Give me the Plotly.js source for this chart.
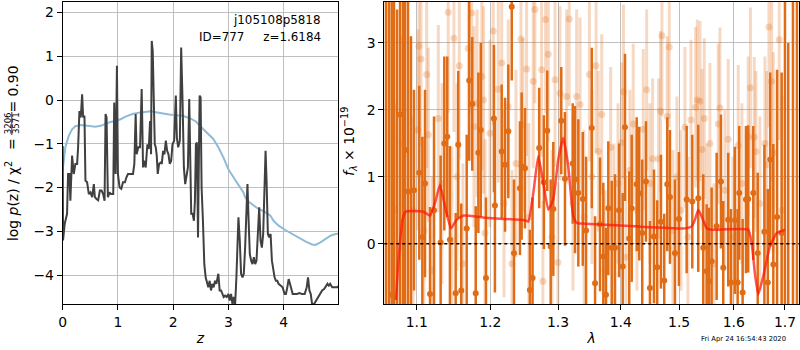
<!DOCTYPE html>
<html>
<head>
<meta charset="utf-8">
<script src="https://cdn.plot.ly/plotly-3.0.1.min.js"></script>
<style>html,body{margin:0;padding:0;background:#fff;}#plot{width:800px;height:350px;}</style>
</head>
<body>
<div id="plot"></div>
<script>
// ---------- left panel: redshift probability ----------
const zPz = [0.000,0.006,0.036,0.079,0.097,0.121,0.139,0.170,0.200,0.230,
0.261,0.279,0.303,0.327,0.352,0.370,0.394,0.412,0.442,0.473,
0.503,0.533,0.564,0.582,0.612,0.642,0.673,0.703,0.733,0.758,
0.776,0.794,0.818,0.848,0.873,0.897,0.915,0.933,0.958,0.982,
1.000,1.030,1.061,1.091,1.127,1.152,1.182,1.212,1.236,1.273,
1.297,1.321,1.339,1.370,1.400,1.430,1.455,1.473,1.503,1.533,
1.558,1.582,1.600,1.612,1.630,1.648,1.667,1.685,1.703,1.721,
1.745,1.770,1.794,1.818,1.842,1.867,1.891,1.915,1.939,1.964,
1.988,2.018,2.048,2.067,2.091,2.121,2.145,2.170,2.194,2.218,
2.242,2.267,2.291,2.309,2.327,2.352,2.376,2.394,2.412,2.430,
2.450,2.460,2.479,2.497,2.515,2.539,2.564,2.588,2.612,2.636,
2.661,2.685,2.709,2.733,2.758,2.782,2.818,2.842,2.867,2.891,
2.915,2.939,2.970,3.000,3.024,3.048,3.073,3.097,3.121,3.145,
3.170,3.182,3.206,3.230,3.255,3.279,3.303,3.327,3.345,3.364,
3.388,3.412,3.436,3.461,3.485,3.509,3.533,3.558,3.582,3.606,
3.630,3.655,3.673,3.691,3.715,3.739,3.764,3.788,3.812,3.836,
3.861,3.885,3.909,3.945,3.982,4.018,4.042,4.067,4.091,4.115,
4.139,4.164,4.200,4.242,4.285,4.333,4.382,4.418,4.442,4.467,
4.491,4.515,4.552,4.588,4.624,4.661,4.697,4.733,4.770,4.794,
4.818,4.842,4.879,4.927,4.976,5.000];
const logPz = [-1.05,-3.21,-2.83,-2.60,-1.69,-1.69,-2.30,-1.27,-1.69,-1.46,
-1.46,-1.08,-0.25,-0.40,0.13,-0.40,-0.36,-1.84,-1.88,-2.15,
-2.11,-2.22,-1.92,-2.22,-2.26,-2.29,-2.07,-2.07,-2.15,-2.30,
-0.32,-0.40,-2.22,-2.11,-2.15,-2.15,-2.15,-0.06,-1.69,0.78,
-1.69,-2.00,-2.03,-1.88,-1.88,-1.77,-1.69,-1.69,-1.69,-1.69,
-1.46,-0.32,-1.24,-1.08,-1.08,0.25,-1.54,-1.39,-1.54,-1.01,
-1.12,-0.48,-1.24,1.35,1.12,-0.02,-1.01,-1.08,-1.27,-1.69,
-1.46,-1.43,-1.46,-1.16,-1.24,-0.93,-1.16,-1.24,-1.46,-1.39,
-1.01,-0.93,0.10,-0.86,-1.08,-0.93,1.20,-0.02,-1.54,-1.92,
-1.69,-1.54,0.02,-1.39,-2.60,-2.60,-2.76,-2.30,-1.01,-0.97,
-3.14,-2.00,0.10,0.06,-2.00,-2.76,-3.75,-4.05,-4.20,-4.28,
-4.13,-4.35,-4.20,-4.28,-4.13,-4.20,-3.97,-4.35,-4.35,-4.43,
-4.50,-4.47,-4.50,-4.43,-4.58,-4.43,-4.66,-4.50,-4.70,-4.05,
-3.21,-2.68,-3.21,-3.97,-4.05,-3.97,-3.37,-2.60,-1.92,-2.68,
-3.52,-3.67,-3.75,-3.59,-3.75,-3.67,-3.06,-2.45,-3.21,-3.37,
-3.06,-2.00,-1.16,-1.84,-3.06,-3.14,-3.06,-3.67,-3.90,-4.05,
-4.13,-4.13,-4.20,-4.24,-4.28,-4.43,-4.43,-4.28,-4.09,-4.20,
-4.35,-4.43,-4.43,-4.43,-4.41,-4.43,-4.43,-4.28,-4.05,-4.35,
-4.43,-4.66,-4.66,-4.58,-4.50,-4.43,-4.35,-4.32,-4.24,-4.20,
-4.24,-4.20,-4.28,-4.28,-4.28,-4.24];
const zPrior = [0.000,0.048,0.109,0.170,0.230,0.321,0.412,0.503,0.594,0.685,
0.776,0.867,0.958,1.048,1.139,1.261,1.382,1.503,1.594,1.685,
1.806,1.927,2.048,2.170,2.291,2.412,2.515,2.636,2.727,2.818,
2.909,3.000,3.091,3.182,3.273,3.303,3.364,3.455,3.545,3.636,
3.758,3.818,3.909,4.030,4.152,4.273,4.394,4.515,4.576,4.667,
4.758,4.848,4.939,5.000];
const logPrior = [-1.60,-1.08,-0.82,-0.67,-0.60,-0.57,-0.58,-0.59,-0.61,-0.59,
-0.54,-0.50,-0.48,-0.44,-0.38,-0.32,-0.29,-0.27,-0.26,-0.28,
-0.31,-0.33,-0.35,-0.36,-0.41,-0.49,-0.63,-0.78,-0.89,-1.08,
-1.31,-1.58,-1.77,-1.94,-2.11,-2.22,-2.32,-2.41,-2.49,-2.54,
-2.64,-2.76,-2.87,-2.97,-3.06,-3.14,-3.23,-3.30,-3.31,-3.25,
-3.17,-3.10,-3.06,-3.05];
const zTicks = [0,1,2,3,4];
const pzTicks = [-4,-3,-2,-1,0,1,2];

// ---------- right panel: 1D spectrum ----------
const lamDark = [1.0607,1.0645,1.0680,1.0709,1.0748,1.0786,1.0824,1.0850,1.0888,1.0926,
1.0965,1.1034,1.1074,1.1109,1.1175,1.1228,1.1316,1.1365,1.1405,1.1441,
1.1519,1.1554,1.1595,1.1670,1.1705,1.1747,1.1795,1.1832,1.1866,1.1939,
1.2052,1.2066,1.2163,1.2211,1.2258,1.2308,1.2341,1.2428,1.2453,1.2502,
1.2575,1.2615,1.2714,1.2785,1.2836,1.2888,1.2928,1.3050,1.3107,1.3228,
1.3264,1.3316,1.3386,1.3438,1.3529,1.3582,1.3662,1.3715,1.3759,1.3796,
1.3852,1.3906,1.3972,1.4033,1.4071,1.4142,1.4183,1.4267,1.4310,1.4361,
1.4424,1.4492,1.4561,1.4617,1.4682,1.4739,1.4792,1.4839,1.4927,1.4997,
1.5135,1.5236,1.5344,1.5435,1.5497,1.5539,1.5588,1.5681,1.5761,1.5804,
1.5897,1.5948,1.6024,1.6075,1.6105,1.6170,1.6234,1.6277,1.6375,1.6461,
1.6591,1.6658,1.6706,1.6767,1.6842,1.6933,1.7000,1.7066,1.7161,1.7242];
const fluxDark = [4.5,-1.8,-0.76,4.2,-1.5,1.93,4.8,1.40,0.78,-1.4,
0.8,1.06,0.10,0.9,-0.75,0.5,0.02,1.50,1.60,0.06,
-0.74,1.48,-0.70,0.23,2.44,2.09,-0.74,1.36,1.70,-0.51,
1.87,0.57,1.38,1.18,1.68,3.54,-0.14,0.83,1.16,1.13,
-0.69,-0.51,1.43,0.92,1.69,-0.04,0.52,1.84,0.97,1.20,
0.96,0.76,0.67,0.2,1.73,-0.59,0.29,-0.19,-0.76,0.53,
-0.06,-0.06,0.5,-0.34,1.74,0.08,0.53,0.89,0.75,0.16,
0.93,-0.66,0.11,-0.35,0.33,-0.55,0.89,0.70,-0.14,0.37,
0.66,0.63,0.68,-0.06,-0.41,-0.56,-0.26,0.26,0.93,-0.36,
0.36,-0.58,0.35,-0.58,0.76,-0.73,0.66,0.67,0.76,-0.14,
0.18,-0.58,1.26,-0.31,0.4,0.16,4.5,-2,4,4];
const errDark = [6,6,5,6,5,5,6,5,4.5,4.5,
1.5,1.3,1.5,1.4,1.3,1.4,1.3,1.3,1.2,1.4,
1.2,1.1,1.3,1.4,1.2,1.0,1.3,1.2,1.3,1.2,
1.1,1.3,1.0,1.0,1.0,1.1,1.1,1.0,1.1,0.9,
0.9,1.2,0.9,1.0,0.9,1.0,1.0,0.8,1.0,0.9,
1.1,1.1,1.0,1.1,1.2,1.0,1.0,1.1,1.0,1.0,
1.0,1.1,1.0,1.1,1.1,1.0,1.1,1.0,1.0,1.1,
0.9,1.0,1.0,1.0,1.0,1.0,1.0,1.0,1.1,1.0,
1.1,1.0,1.1,1.1,1.0,1.1,1.1,1.1,1.0,1.0,
1.0,1.1,1.1,1.1,1.0,1.1,1.1,1.1,1.0,1.2,
1.3,1.4,1.3,1.8,2.2,2.4,6,5,6,6];

const lamLight = [1.0722,1.0812,1.0952,1.1017,1.1030,1.1056,1.1095,1.1131,1.1152,1.1201,
1.1285,1.1334,1.1418,1.1468,1.1495,1.1536,1.1568,1.1618,1.1692,1.1739,
1.1771,1.1814,1.1880,1.1905,1.1926,1.1995,1.2042,1.2114,1.2163,1.2196,
1.2258,1.2312,1.2370,1.2443,1.2472,1.2526,1.2560,1.2625,1.2650,1.2750,
1.2810,1.2851,1.2908,1.2954,1.3030,1.3133,1.3174,1.3232,1.3290,1.3343,
1.3406,1.3491,1.3534,1.3598,1.3635,1.3689,1.3743,1.3835,1.3889,1.3955,
1.4016,1.4046,1.4087,1.4154,1.4209,1.4271,1.4378,1.4436,1.4492,1.4538,
1.4641,1.4676,1.4699,1.4792,1.4827,1.4892,1.4962,1.5033,1.5104,1.5158,
1.5212,1.5297,1.5326,1.5375,1.5411,1.5453,1.5502,1.5557,1.5631,1.5711,
1.5742,1.5835,1.5897,1.5985,1.6086,1.6157,1.6277,1.6320,1.6393,1.6426,
1.6504,1.6602,1.6635,1.6681,1.6734,1.6767,1.6885,1.6940,1.2770,1.2999];
const fluxLight = [0.5,1.5,0.5,1.7,2.95,2.76,0.2,2.53,1.63,-0.4,
1.87,0.9,3.46,0.05,3.07,1.0,2.66,-0.3,2.92,3.45,
1.75,2.10,2.50,2.15,0.16,1.65,3.18,2.31,2.70,0.6,
2.05,-0.3,1.2,3.06,1.78,2.61,0.4,2.43,3.50,2.60,
3.35,2.83,0.1,2.45,2.25,2.20,3.36,0.6,2.2,2.08,
0.4,2.53,1.0,2.66,1.38,1.93,-0.4,1.44,0.3,0.9,
1.51,2.27,-0.2,1.1,1.79,0.5,1.71,2.30,0.9,1.27,
1.27,1.98,3.11,1.90,2.94,0.2,1.0,0.5,1.74,0.1,
1.85,2.04,2.15,2.13,1.41,1.87,0.3,1.50,-0.3,1.79,
2.03,0.8,1.56,0.1,1.47,0.9,1.60,2.33,1.59,1.38,
0.6,1.50,1.18,3.24,2.43,1.36,3.05,0.5,-0.56,-0.28];
const errLight = [1.6,1.6,1.4,1.5,1.3,1.3,1.4,1.4,1.3,1.4,
1.4,1.5,1.5,1.4,1.4,1.4,1.4,1.5,1.5,1.5,
1.5,1.4,1.4,1.4,1.4,1.4,1.4,1.4,1.4,1.4,
1.3,1.4,1.4,1.3,1.3,1.3,1.4,1.3,1.4,1.3,
1.4,1.3,1.3,1.3,1.3,1.3,1.3,1.3,1.3,1.3,
1.3,1.3,1.3,1.3,1.2,1.2,1.2,1.2,1.2,1.2,
1.2,1.3,1.2,1.2,1.2,1.2,1.2,1.2,1.2,1.2,
1.2,1.2,1.2,1.2,1.2,1.2,1.2,1.2,1.2,1.2,
1.2,1.2,1.2,1.2,1.2,1.2,1.2,1.2,1.2,1.2,
1.2,1.2,1.2,1.2,1.2,1.2,1.2,1.2,1.2,1.2,
1.3,1.3,1.4,1.5,1.5,1.5,1.5,1.7,1.2,1.2];

const lamModel = [1.0734,1.0760,1.0788,1.0818,1.0857,1.0936,1.1086,1.1175,1.1241,1.1307,
1.1374,1.1455,1.1533,1.1622,1.1925,1.2500,1.2551,1.2626,1.2700,1.2776,
1.2851,1.2927,1.3004,1.3081,1.3158,1.3236,1.3290,1.3421,1.4237,1.5104,
1.5224,1.5284,1.5344,1.5405,1.5497,1.5589,1.6277,1.6343,1.6406,1.6470,
1.6568,1.6700,1.6833,1.7000];
const fluxModel = [-0.84,-0.34,0.06,0.36,0.48,0.49,0.48,0.42,0.61,0.88,
0.56,0.23,0.36,0.42,0.39,0.35,0.33,0.76,1.31,0.91,
0.51,0.66,1.26,1.58,1.16,0.41,0.31,0.30,0.26,0.23,
0.26,0.36,0.51,0.41,0.23,0.21,0.21,0.01,-0.44,-0.76,
-0.49,-0.04,0.16,0.21];
const lamTicks = [1.1,1.2,1.3,1.4,1.5,1.6,1.7];
const lamTickText = ['1.1','1.2','1.3','1.4','1.5','1.6','1.7'];
const fluxTicks = [0,1,2,3];

// ---------- drawing ----------
const W = 800, H = 350;
const px = v => v / W, py = v => 1 - v / H;
const FONT = 'DejaVu Sans';
const orange = 'rgb(224,108,22)';
const orangeLight = 'rgba(224,108,22,0.26)';

const traces = [
  {x: zPrior, y: logPrior, xaxis: 'x', yaxis: 'y', mode: 'lines',
   line: {color: '#8fbbd9', width: 2}, hoverinfo: 'skip'},
  {x: zPz, y: logPz, xaxis: 'x', yaxis: 'y', mode: 'lines',
   line: {color: '#404040', width: 2}, hoverinfo: 'skip'},
  {x: lamLight, y: fluxLight, xaxis: 'x2', yaxis: 'y2', mode: 'markers',
   marker: {color: orangeLight, size: 7},
   error_y: {type: 'data', array: errLight, visible: true, color: orangeLight, thickness: 3, width: 0}},
  {x: lamDark, y: fluxDark, xaxis: 'x2', yaxis: 'y2', mode: 'markers',
   marker: {color: orange, size: 6},
   error_y: {type: 'data', array: errDark, visible: true, color: orange, thickness: 2.5, width: 0}},
  {x: lamModel, y: fluxModel, xaxis: 'x2', yaxis: 'y2', mode: 'lines',
   line: {color: 'rgba(255,20,10,0.72)', width: 2.5, shape: 'spline', smoothing: 0.4}}
];

const axBase = {
  showline: true, mirror: true, linecolor: 'black', linewidth: 1,
  ticks: 'outside', ticklen: 5, tickwidth: 1, tickcolor: 'black',
  showgrid: true, gridcolor: '#b0b0b0', gridwidth: 0.8, zeroline: false,
  tickfont: {family: FONT, size: 13.9, color: 'black'}
};
const yDom = [1 - 304 / H, 1 - 1.5 / H];
const lab = (x, y, text, size, ya) => ({xref: 'paper', yref: 'paper', x: px(x), y: py(y),
  xanchor: 'center', yanchor: ya || 'middle', textangle: -90, text: text, showarrow: false,
  font: {family: FONT, size: size, color: 'black'}});

const layout = {
  width: W, height: H, showlegend: false,
  margin: {l: 0, r: 0, t: 0, b: 0},
  paper_bgcolor: 'white', plot_bgcolor: 'white',
  font: {family: FONT, size: 13.9, color: 'black'},
  xaxis: Object.assign({}, axBase, {
    domain: [px(62.7), px(338.3)], range: [0, 4.99], anchor: 'y',
    tickvals: zTicks,
    title: {text: '<i>z</i>', font: {family: FONT, size: 13.9}, standoff: 4}
  }),
  yaxis: Object.assign({}, axBase, {
    domain: yDom, range: [-4.66, 2.25], anchor: 'x',
    tickvals: pzTicks
  }),
  xaxis2: Object.assign({}, axBase, {
    domain: [px(384.3), px(799)], type: 'log',
    range: [Math.log10(1.0587), Math.log10(1.7284)], anchor: 'y2',
    tickvals: lamTicks, ticktext: lamTickText,
    title: {text: '<i>λ</i>', font: {family: FONT, size: 13.9}, standoff: 4}
  }),
  yaxis2: Object.assign({}, axBase, {
    domain: yDom, range: [-0.9, 3.62], anchor: 'x2',
    tickvals: fluxTicks
  }),
  shapes: [
    {type: 'line', xref: 'x2 domain', yref: 'y2', x0: 0, x1: 1, y0: 0, y1: 0,
     line: {color: 'black', width: 1.6, dash: 'dot'}, layer: 'above'},
    {type: 'line', xref: 'paper', yref: 'paper', x0: px(11.8), x1: px(11.8), y0: py(112), y1: py(135),
     line: {color: 'black', width: 0.8}}
  ],
  annotations: [
    {xref: 'paper', yref: 'paper', x: px(323), y: py(20), xanchor: 'right', yanchor: 'middle',
     text: 'j105108p5818', showarrow: false, font: {family: FONT, size: 11.9, color: 'black'}},
    {xref: 'paper', yref: 'paper', x: px(323), y: py(36.5), xanchor: 'right', yanchor: 'middle',
     text: 'ID=777\u00a0\u00a0\u00a0\u00a0\u00a0z=1.6184', showarrow: false, font: {family: FONT, size: 11.9, color: 'black'}},
    lab(12, 243, 'log <i>p</i>(z) / χ<sup>2</sup>', 13.9, 'bottom'),
    lab(12, 144, '=', 13.9),
    lab(7.8, 123.5, '3206', 8.6),
    lab(15.6, 123.5, '3571', 8.6),
    lab(12, 64, '= 0.90', 13.9, 'top'),
    lab(349, 142, '<i>f</i><sub><i>λ</i></sub> × 10<sup>−19</sup>', 13.9),
    {xref: 'paper', yref: 'paper', x: px(788), y: py(339), xanchor: 'right', yanchor: 'middle',
     text: 'Fri Apr 24 16:54:43 2020', showarrow: false, font: {family: FONT, size: 6.8, color: 'black'}}
  ]
};

Plotly.newPlot('plot', traces, layout, {staticPlot: true, displayModeBar: false});
</script>
</body>
</html>
